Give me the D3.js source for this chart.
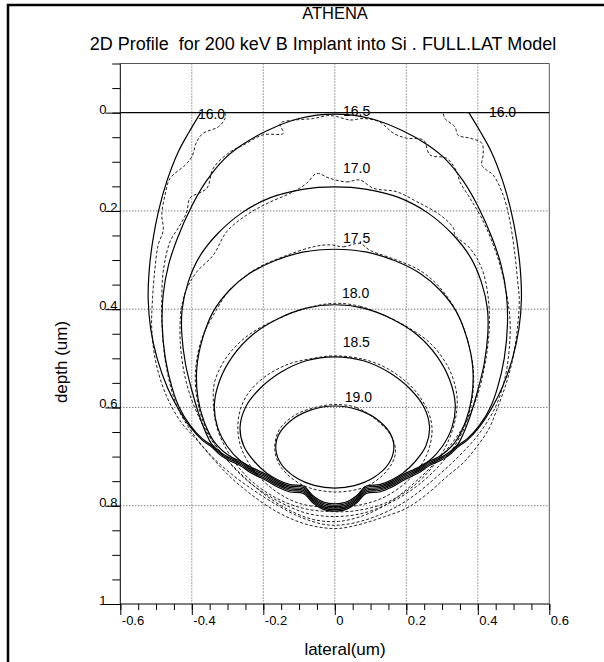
<!DOCTYPE html>
<html>
<head>
<meta charset="utf-8">
<script src="https://cdn.jsdelivr.net/npm/d3@7"></script>
<style>
  body { margin: 0; background: #fff; }
  svg { display: block; font-family: "Liberation Sans", Arial, Helvetica, sans-serif; }
</style>
</head>
<body>
<script>
const width = 604,
      height = 662;

// axis values
const lateralTicks = [-0.6, -0.4, -0.2, 0, 0.2, 0.4, 0.6];
const depthTicks = [0, 0.2, 0.4, 0.6, 0.8, 1];
const gridLateral = [-0.4, -0.2, 0, 0.2, 0.4];
const gridDepth = [0.2, 0.4, 0.6, 0.8];

// contour levels (log10 conc.) and label spots [lateral, depth]
const levels = ["16.0", "16.5", "17.0", "17.5", "18.0", "18.5", "19.0"];
const labelText = ["16.0", "16.5", "16.0", "17.0", "17.5", "18.0", "18.5", "19.0"];
const labelLateral = [-0.383, 0.023, 0.431, 0.023, 0.023, 0.020, 0.022, 0.028];
const labelDepth = [0.013, 0.007, 0.009, 0.123, 0.265, 0.378, 0.476, 0.588];

// analytic (solid) contours
const solid160 = [[-0.375,0.000],[-0.408,0.040],[-0.438,0.080],[-0.470,0.140],[-0.493,0.200],[-0.509,0.260],[-0.519,0.320],[-0.522,0.380],[-0.515,0.440],[-0.497,0.500],[-0.468,0.560],[-0.440,0.600],
  [-0.405,0.639],[-0.370,0.667],[-0.345,0.680],[-0.320,0.697],[-0.290,0.710],[-0.265,0.718],[-0.235,0.733],[-0.190,0.749],[-0.160,0.762],[-0.125,0.772],[-0.088,0.775],[-0.060,0.795],[-0.030,0.808],[0.000,0.811],
  [0.030,0.808],[0.060,0.795],[0.088,0.775],[0.125,0.772],[0.160,0.762],[0.190,0.749],[0.235,0.733],[0.265,0.718],[0.290,0.710],[0.320,0.697],[0.345,0.680],[0.370,0.667],[0.405,0.639],
  [0.440,0.600],[0.468,0.560],[0.497,0.500],[0.515,0.440],[0.522,0.380],[0.519,0.320],[0.509,0.260],[0.493,0.200],[0.470,0.140],[0.438,0.080],[0.408,0.040],[0.375,0.000]];
const solid165 = [[0.000,0.003],[0.100,0.012],[0.190,0.037],[0.260,0.066],[0.310,0.095],[0.360,0.140],[0.400,0.190],[0.440,0.255],[0.465,0.310],[0.480,0.370],[0.483,0.430],[0.474,0.500],[0.455,0.560],[0.435,0.600],
  [0.405,0.636],[0.370,0.664],[0.345,0.677],[0.320,0.694],[0.290,0.707],[0.265,0.715],[0.235,0.730],[0.190,0.746],[0.160,0.759],[0.125,0.769],[0.088,0.772],[0.060,0.792],[0.030,0.805],[0.000,0.808],
  [-0.030,0.805],[-0.060,0.792],[-0.088,0.772],[-0.125,0.769],[-0.160,0.759],[-0.190,0.746],[-0.235,0.730],[-0.265,0.715],[-0.290,0.707],[-0.320,0.694],[-0.345,0.677],[-0.370,0.664],[-0.405,0.636],
  [-0.435,0.600],[-0.455,0.560],[-0.474,0.500],[-0.483,0.430],[-0.480,0.370],[-0.465,0.310],[-0.440,0.255],[-0.400,0.190],[-0.360,0.140],[-0.310,0.095],[-0.260,0.066],[-0.190,0.037],[-0.100,0.012]];
const solid170 = [[0.000,0.151],[0.090,0.156],[0.180,0.173],[0.260,0.204],[0.330,0.248],[0.380,0.295],[0.410,0.345],[0.427,0.400],[0.428,0.450],[0.418,0.510],[0.400,0.565],[0.375,0.625],
  [0.345,0.674],[0.320,0.691],[0.290,0.704],[0.265,0.712],[0.235,0.727],[0.190,0.743],[0.160,0.756],[0.125,0.766],[0.088,0.769],[0.060,0.789],[0.030,0.802],[0.000,0.805],
  [-0.030,0.802],[-0.060,0.789],[-0.088,0.769],[-0.125,0.766],[-0.160,0.756],[-0.190,0.743],[-0.235,0.727],[-0.265,0.712],[-0.290,0.704],[-0.320,0.691],[-0.345,0.674],
  [-0.375,0.625],[-0.400,0.565],[-0.418,0.510],[-0.428,0.450],[-0.427,0.400],[-0.410,0.345],[-0.380,0.295],[-0.330,0.248],[-0.260,0.204],[-0.180,0.173],[-0.090,0.156]];
const solid175 = [[0.000,0.278],[0.090,0.284],[0.170,0.302],[0.240,0.328],[0.294,0.361],[0.340,0.405],[0.370,0.460],[0.386,0.520],[0.383,0.580],[0.365,0.630],[0.335,0.672],
  [0.290,0.701],[0.265,0.709],[0.235,0.724],[0.190,0.740],[0.160,0.753],[0.125,0.763],[0.088,0.766],[0.060,0.786],[0.030,0.799],[0.000,0.802],
  [-0.030,0.799],[-0.060,0.786],[-0.088,0.766],[-0.125,0.763],[-0.160,0.753],[-0.190,0.740],[-0.235,0.724],[-0.265,0.709],[-0.290,0.701],
  [-0.335,0.672],[-0.365,0.630],[-0.383,0.580],[-0.386,0.520],[-0.370,0.460],[-0.340,0.405],[-0.294,0.361],[-0.240,0.328],[-0.170,0.302],[-0.090,0.284]];
const solid180 = [[0.000,0.391],[0.080,0.398],[0.160,0.420],[0.230,0.452],[0.285,0.495],[0.322,0.545],[0.337,0.595],[0.328,0.640],[0.300,0.680],[0.265,0.708],
  [0.235,0.721],[0.190,0.737],[0.160,0.750],[0.125,0.760],[0.088,0.763],[0.060,0.783],[0.030,0.796],[0.000,0.799],
  [-0.030,0.796],[-0.060,0.783],[-0.088,0.763],[-0.125,0.760],[-0.160,0.750],[-0.190,0.737],[-0.235,0.721],
  [-0.265,0.708],[-0.300,0.680],[-0.328,0.640],[-0.337,0.595],[-0.322,0.545],[-0.285,0.495],[-0.230,0.452],[-0.160,0.420],[-0.080,0.398]];
const solid185 = [[0.000,0.497],[0.080,0.505],[0.150,0.528],[0.210,0.562],[0.250,0.600],[0.265,0.640],[0.255,0.678],[0.225,0.710],[0.190,0.734],
  [0.160,0.747],[0.125,0.757],[0.088,0.760],[0.060,0.780],[0.030,0.793],[0.000,0.796],
  [-0.030,0.793],[-0.060,0.780],[-0.088,0.760],[-0.125,0.757],[-0.160,0.747],
  [-0.190,0.734],[-0.225,0.710],[-0.255,0.678],[-0.265,0.640],[-0.250,0.600],[-0.210,0.562],[-0.150,0.528],[-0.080,0.505]];
const solid190 = [[0.000,0.597],[0.070,0.606],[0.125,0.628],[0.158,0.657],[0.165,0.685],[0.150,0.715],[0.110,0.742],[0.055,0.759],[0.000,0.764],[-0.055,0.759],[-0.110,0.742],[-0.150,0.715],[-0.165,0.685],[-0.158,0.657],[-0.125,0.628],[-0.070,0.606]];

// Monte Carlo (dashed) contours
const mc160 = [[-0.307,0.000],[-0.307,0.012],[-0.326,0.029],[-0.368,0.042],[-0.386,0.059],[-0.400,0.090],[-0.419,0.107],[-0.461,0.134],[-0.475,0.168],[-0.484,0.208],[-0.480,0.239],[-0.494,0.269],[-0.503,0.317],[-0.510,0.381],[-0.512,0.440],[-0.500,0.510],[-0.470,0.578],[-0.430,0.630],[-0.386,0.666],[-0.340,0.705],[-0.293,0.741],[-0.250,0.768],[-0.200,0.795],[-0.150,0.817],[-0.088,0.836],[-0.030,0.845],[0.015,0.846],[0.080,0.836],[0.140,0.822],[0.201,0.805],[0.260,0.775],[0.313,0.741],[0.360,0.712],[0.397,0.680],[0.430,0.645],[0.453,0.605],[0.480,0.550],[0.499,0.497],[0.512,0.430],[0.516,0.381],[0.511,0.340],[0.504,0.290],[0.490,0.222],[0.471,0.168],[0.443,0.127],[0.425,0.117],[0.411,0.107],[0.415,0.086],[0.411,0.062],[0.378,0.052],[0.345,0.046],[0.336,0.029],[0.308,0.012],[0.303,0.000]];
const mc165 = [[0.005,0.008],[0.043,0.015],[0.080,0.012],[0.126,0.019],[0.164,0.042],[0.201,0.052],[0.248,0.056],[0.266,0.086],[0.313,0.093],[0.341,0.120],[0.350,0.141],[0.378,0.174],[0.411,0.215],[0.440,0.263],[0.462,0.310],[0.478,0.360],[0.490,0.420],[0.488,0.480],[0.476,0.540],[0.450,0.598],[0.405,0.652],[0.350,0.697],[0.290,0.738],[0.220,0.780],[0.160,0.807],[0.090,0.828],[0.020,0.839],[-0.030,0.838],[-0.100,0.822],[-0.170,0.795],[-0.230,0.767],[-0.290,0.735],[-0.350,0.695],[-0.400,0.650],[-0.440,0.600],[-0.468,0.530],[-0.482,0.450],[-0.484,0.381],[-0.480,0.324],[-0.461,0.263],[-0.433,0.229],[-0.414,0.202],[-0.405,0.174],[-0.358,0.154],[-0.340,0.113],[-0.293,0.080],[-0.256,0.066],[-0.200,0.045],[-0.144,0.042],[-0.153,0.022],[-0.110,0.015],[-0.060,0.012],[-0.020,0.006]];
const mc170 = [[-0.013,0.134],[0.033,0.141],[0.070,0.137],[0.108,0.154],[0.173,0.161],[0.229,0.181],[0.294,0.208],[0.332,0.235],[0.336,0.249],[0.378,0.276],[0.411,0.317],[0.428,0.370],[0.432,0.440],[0.418,0.520],[0.392,0.590],[0.350,0.650],[0.290,0.705],[0.220,0.755],[0.150,0.795],[0.080,0.820],[0.010,0.832],[-0.060,0.828],[-0.130,0.808],[-0.200,0.775],[-0.270,0.730],[-0.330,0.682],[-0.380,0.620],[-0.415,0.550],[-0.432,0.470],[-0.430,0.400],[-0.424,0.381],[-0.414,0.358],[-0.386,0.324],[-0.340,0.290],[-0.302,0.242],[-0.246,0.208],[-0.190,0.185],[-0.116,0.161],[-0.079,0.144],[-0.051,0.124]];
const mc175 = [[-0.013,0.269],[0.024,0.273],[0.070,0.266],[0.098,0.280],[0.173,0.300],[0.240,0.322],[0.294,0.356],[0.340,0.405],[0.372,0.465],[0.388,0.530],[0.380,0.600],[0.350,0.660],[0.300,0.712],[0.235,0.757],[0.160,0.792],[0.080,0.815],[0.000,0.822],[-0.080,0.815],[-0.160,0.790],[-0.240,0.752],[-0.300,0.708],[-0.352,0.655],[-0.382,0.595],[-0.390,0.530],[-0.372,0.460],[-0.330,0.400],[-0.294,0.361],[-0.220,0.318],[-0.140,0.292],[-0.060,0.273]];
const mc180 = [[0.000,0.388],[0.070,0.394],[0.130,0.410],[0.200,0.435],[0.268,0.470],[0.315,0.515],[0.338,0.560],[0.342,0.600],[0.325,0.655],[0.285,0.710],[0.220,0.760],[0.140,0.795],[0.060,0.810],[-0.010,0.812],[-0.090,0.805],[-0.170,0.782],[-0.240,0.745],[-0.295,0.695],[-0.330,0.640],[-0.340,0.585],[-0.335,0.545],[-0.300,0.495],[-0.240,0.452],[-0.160,0.420],[-0.080,0.398]];
const mc185 = [[0.000,0.495],[0.080,0.502],[0.150,0.522],[0.220,0.562],[0.262,0.610],[0.272,0.650],[0.255,0.700],[0.210,0.745],[0.140,0.782],[0.060,0.800],[-0.020,0.803],[-0.100,0.795],[-0.170,0.768],[-0.230,0.725],[-0.265,0.675],[-0.270,0.625],[-0.250,0.580],[-0.200,0.540],[-0.130,0.512],[-0.060,0.500]];
const mc190 = [[0.000,0.594],[0.060,0.600],[0.110,0.622],[0.155,0.655],[0.170,0.690],[0.150,0.725],[0.090,0.760],[0.000,0.772],[-0.090,0.758],[-0.150,0.722],[-0.168,0.685],[-0.155,0.645],[-0.110,0.615],[-0.055,0.600]];

const solidContours = [solid160, solid165, solid170, solid175, solid180, solid185, solid190];
const mcContours = [mc160, mc165, mc170, mc175, mc180, mc185, mc190];

const x = d3.scaleLinear().domain([-0.6, 0.6]).range([120.3, 549.3]);
const y = d3.scaleLinear().domain([-0.1, 1]).range([63.5, 604]);

const svg = d3.select("body")
    .append("svg")
    .attr("width", width)
    .attr("height", height);

// outer frame
svg.append("rect")
    .attr("x", 8).attr("y", 5)
    .attr("width", 640).attr("height", 700)
    .attr("fill", "none")
    .attr("stroke", "#000")
    .attr("stroke-width", 2.5);

svg.append("text")
    .attr("x", 335).attr("y", 19)
    .attr("text-anchor", "middle")
    .style("font-size", "16.5px")
    .text("ATHENA");

svg.append("text")
    .attr("x", 323).attr("y", 50)
    .attr("text-anchor", "middle")
    .style("font-size", "18px")
    .text("2D Profile \u00a0for 200 keV B Implant into Si . FULL.LAT Model");

// dotted grid
const grid = svg.append("g")
    .attr("stroke", "#444")
    .attr("stroke-width", 1)
    .attr("stroke-dasharray", "1,2");

grid.selectAll("line.v")
    .data(gridLateral)
    .enter().append("line")
    .attr("class", "v")
    .attr("x1", d => x(d)).attr("x2", d => x(d))
    .attr("y1", y(-0.1)).attr("y2", y(1));

grid.selectAll("line.h")
    .data(gridDepth)
    .enter().append("line")
    .attr("class", "h")
    .attr("x1", x(-0.6)).attr("x2", x(0.6))
    .attr("y1", d => y(d)).attr("y2", d => y(d));

// plot box + surface line
const frame = svg.append("g").attr("stroke", "#222").attr("stroke-width", 1);
frame.append("line").attr("x1", x(-0.6)).attr("x2", x(0.6)).attr("y1", y(-0.1)).attr("y2", y(-0.1)).attr("stroke", "#555");
frame.append("line").attr("x1", x(0.6)).attr("x2", x(0.6)).attr("y1", y(-0.1)).attr("y2", y(1)).attr("stroke", "#555");
frame.append("line").attr("x1", x(-0.6)).attr("x2", x(0.6)).attr("y1", y(0)).attr("y2", y(0)).attr("stroke", "#000").attr("stroke-width", 1.3);

// axes
const fmt = d => String(d);

svg.append("g")
    .attr("transform", `translate(${x(-0.6)},0)`)
    .call(d3.axisLeft(y).ticks(22).tickSize(8).tickFormat(""))
    .call(g => g.select(".domain").remove());

const yAxis = svg.append("g")
    .attr("transform", `translate(${x(-0.6)},0)`)
    .call(d3.axisLeft(y).tickValues(depthTicks).tickSize(15).tickFormat(fmt));
yAxis.select(".domain").remove();
yAxis.selectAll("text")
    .attr("x", -21).attr("dy", "0.5").attr("text-anchor", "start")
    .style("font-size", "13px").style("font-family", "inherit");

svg.append("g")
    .attr("transform", `translate(0,${y(1)})`)
    .call(d3.axisBottom(x).ticks(24).tickSize(6).tickFormat(""))
    .call(g => g.select(".domain").remove());

const xAxis = svg.append("g")
    .attr("transform", `translate(0,${y(1)})`)
    .call(d3.axisBottom(x).tickValues(lateralTicks).tickSize(11).tickFormat(fmt));
xAxis.select(".domain").remove();
xAxis.selectAll("text")
    .attr("x", 1).attr("y", 21).attr("dy", "0").attr("text-anchor", "start")
    .style("font-size", "13px").style("font-family", "inherit");

svg.append("line")
    .attr("x1", x(-0.6)).attr("x2", x(-0.6))
    .attr("y1", y(-0.1)).attr("y2", y(1))
    .attr("stroke", "#000");
svg.append("line")
    .attr("x1", x(-0.6)).attr("x2", x(0.6))
    .attr("y1", y(1)).attr("y2", y(1))
    .attr("stroke", "#000");

svg.append("text")
    .attr("x", 345).attr("y", 655)
    .attr("text-anchor", "middle")
    .style("font-size", "17px")
    .text("lateral(um)");

svg.append("text")
    .attr("transform", "translate(67,362) rotate(-90)")
    .attr("text-anchor", "middle")
    .style("font-size", "17px")
    .text("depth (um)");

// contours
const openLine = d3.line()
    .x(d => x(d[0])).y(d => y(d[1]))
    .curve(d3.curveCatmullRom.alpha(0.5));
const closedLine = d3.line()
    .x(d => x(d[0])).y(d => y(d[1]))
    .curve(d3.curveCatmullRomClosed.alpha(0.5));

svg.append("g")
    .attr("class", "mc")
    .selectAll("path")
    .data(mcContours)
    .enter().append("path")
    .attr("d", (d, i) => i === 0 ? openLine(d) : closedLine(d))
    .attr("fill", "none")
    .attr("stroke", "#222")
    .attr("stroke-width", 1)
    .attr("stroke-dasharray", "3,2");

svg.append("g")
    .attr("class", "analytic")
    .selectAll("path")
    .data(solidContours)
    .enter().append("path")
    .attr("d", (d, i) => i === 0 ? openLine(d) : closedLine(d))
    .attr("fill", "none")
    .attr("stroke", "#000")
    .attr("stroke-width", 1.2);

svg.append("g")
    .selectAll("text")
    .data(labelText)
    .enter().append("text")
    .attr("x", (d, i) => x(labelLateral[i]))
    .attr("y", (d, i) => y(labelDepth[i]))
    .style("font-size", "14px")
    .text(d => d);
</script>
</body>
</html>
